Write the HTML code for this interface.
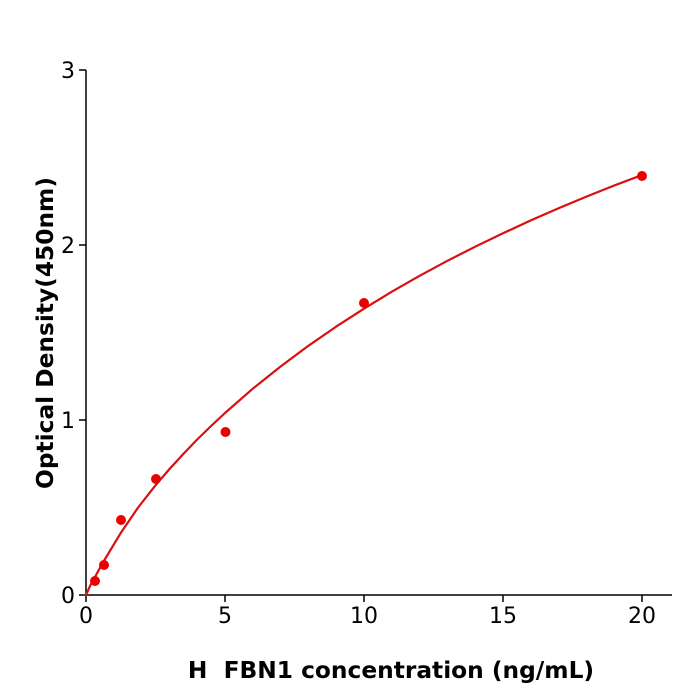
<!DOCTYPE html>
<html>
<head>
<meta charset="utf-8">
<style>
  html, body { margin: 0; padding: 0; background: #ffffff; }
  svg { display: block; }
  .tick { font-family: "DejaVu Sans", "Liberation Sans", sans-serif; font-size: 22px; fill: #000; }
  .lab { font-family: "DejaVu Sans", "Liberation Sans", sans-serif; font-size: 23.3px; font-weight: bold; fill: #000; }
</style>
</head>
<body>
<svg width="700" height="700" viewBox="0 0 700 700" xmlns="http://www.w3.org/2000/svg">
  <rect x="0" y="0" width="700" height="700" fill="#ffffff"/>

  <!-- axes -->
  <line x1="86" y1="70" x2="86" y2="595.75" stroke="#000" stroke-width="1.5"/>
  <line x1="85.25" y1="595" x2="672" y2="595" stroke="#000" stroke-width="1.5"/>

  <!-- y ticks -->
  <g stroke="#000" stroke-width="1.5">
    <line x1="79" y1="595" x2="86" y2="595"/>
    <line x1="79" y1="420" x2="86" y2="420"/>
    <line x1="79" y1="245" x2="86" y2="245"/>
    <line x1="79" y1="70" x2="86" y2="70"/>
  </g>
  <!-- x ticks -->
  <g stroke="#000" stroke-width="1.5">
    <line x1="86" y1="595" x2="86" y2="602"/>
    <line x1="225" y1="595" x2="225" y2="602"/>
    <line x1="364" y1="595" x2="364" y2="602"/>
    <line x1="503" y1="595" x2="503" y2="602"/>
    <line x1="642" y1="595" x2="642" y2="602"/>
  </g>

  <!-- y tick labels -->
  <g class="tick" text-anchor="end">
    <text x="75" y="603">0</text>
    <text x="75" y="428">1</text>
    <text x="75" y="253">2</text>
    <text x="75" y="78">3</text>
  </g>
  <!-- x tick labels -->
  <g class="tick" text-anchor="middle">
    <text x="86" y="623">0</text>
    <text x="225" y="623">5</text>
    <text x="364" y="623">10</text>
    <text x="503" y="623">15</text>
    <text x="642" y="623">20</text>
  </g>

  <!-- axis labels -->
  <text class="lab" x="391" y="678" text-anchor="middle" xml:space="preserve">H  FBN1 concentration (ng/mL)</text>
  <text class="lab" x="0" y="0" text-anchor="middle" transform="translate(53,333) rotate(-90)">Optical Density(450nm)</text>

  <!-- fitted curve -->
  <polyline fill="none" stroke="#d81010" stroke-width="2.2" stroke-linejoin="round" stroke-linecap="round"
    points="86,595 90.3,585.4 94.7,577.5 103.4,561.75 120.8,532.9 138.1,507.5 155.5,485.3 169.4,469.1 183.3,454 197.2,439.5 211.1,426 225,413 252.8,388.7 280.6,366.5 308.4,345.8 336.2,326.6 364,308.7 391.8,291.7 419.6,275.8 447.4,260.8 475.2,246.7 503,233.3 530.8,220.4 558.6,208.2 586.4,196.6 614.2,185.5 642,175"/>

  <!-- data points -->
  <g fill="#ee0000">
    <circle cx="95" cy="581" r="5"/>
    <circle cx="104" cy="565" r="5"/>
    <circle cx="121" cy="520" r="5"/>
    <circle cx="156" cy="479" r="5"/>
    <circle cx="225.5" cy="432" r="5"/>
    <circle cx="364" cy="303" r="5"/>
    <circle cx="642" cy="176" r="5"/>
  </g>
</svg>
</body>
</html>
